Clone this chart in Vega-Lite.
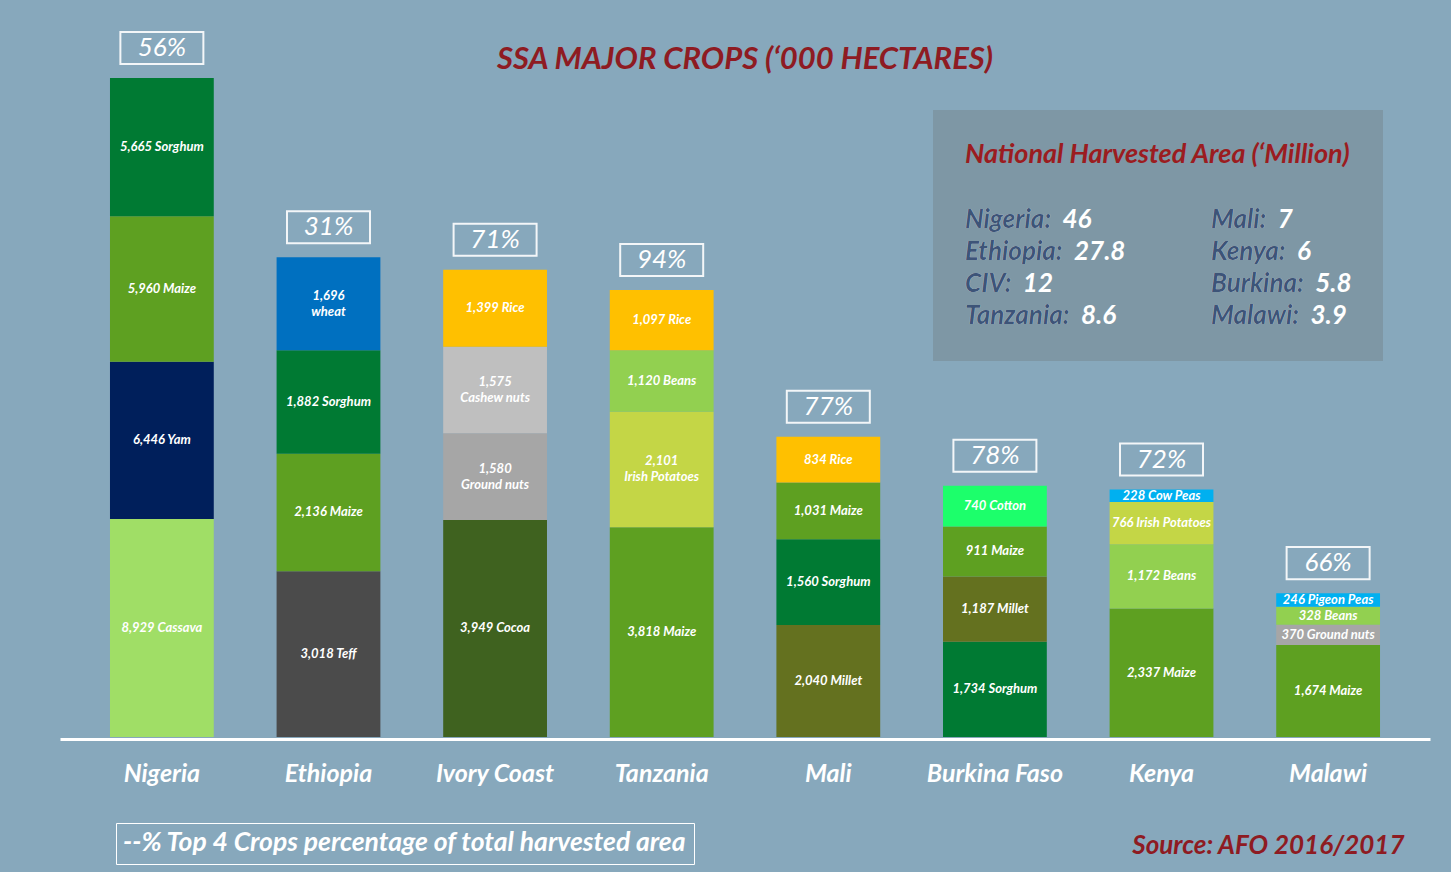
{
  "$schema": "https://vega.github.io/schema/vega-lite/v6.json",
  "width": 1370,
  "height": 717,
  "autosize": {"type": "none"},
  "padding": {"left": 60, "top": 20, "right": 21, "bottom": 135},
  "background": "#87A8BC",
  "title": {
    "text": "SSA MAJOR CROPS (‘000 HECTARES)",
    "anchor": "middle",
    "frame": "group",
    "offset": -80,
    "baseline": "alphabetic",
    "font": "Lato",
    "fontSize": 31,
    "fontStyle": "italic",
    "fontWeight": "bold",
    "color": "#8E1B22"
  },
  "datasets": {
    "crops": [
      {"country": "Nigeria", "crop": "Cassava", "value": 8929, "label": "8,929 Cassava"},
      {"country": "Nigeria", "crop": "Yam", "value": 6446, "label": "6,446 Yam"},
      {"country": "Nigeria", "crop": "Maize", "value": 5960, "label": "5,960 Maize"},
      {"country": "Nigeria", "crop": "Sorghum", "value": 5665, "label": "5,665 Sorghum"},
      {"country": "Ethiopia", "crop": "Teff", "value": 3018, "label": "3,018 Teff"},
      {"country": "Ethiopia", "crop": "Maize", "value": 2136, "label": "2,136 Maize"},
      {"country": "Ethiopia", "crop": "Sorghum", "value": 1882, "label": "1,882 Sorghum"},
      {"country": "Ethiopia", "crop": "wheat", "value": 1696, "label": "1,696\nwheat"},
      {"country": "Ivory Coast", "crop": "Cocoa", "value": 3949, "label": "3,949 Cocoa"},
      {"country": "Ivory Coast", "crop": "Ground nuts", "value": 1580, "label": "1,580\nGround nuts"},
      {"country": "Ivory Coast", "crop": "Cashew nuts", "value": 1575, "label": "1,575\nCashew nuts"},
      {"country": "Ivory Coast", "crop": "Rice", "value": 1399, "label": "1,399 Rice"},
      {"country": "Tanzania", "crop": "Maize", "value": 3818, "label": "3,818 Maize"},
      {"country": "Tanzania", "crop": "Irish Potatoes", "value": 2101, "label": "2,101\nIrish Potatoes"},
      {"country": "Tanzania", "crop": "Beans", "value": 1120, "label": "1,120 Beans"},
      {"country": "Tanzania", "crop": "Rice", "value": 1097, "label": "1,097 Rice"},
      {"country": "Mali", "crop": "Millet", "value": 2040, "label": "2,040 Millet"},
      {"country": "Mali", "crop": "Sorghum", "value": 1560, "label": "1,560 Sorghum"},
      {"country": "Mali", "crop": "Maize", "value": 1031, "label": "1,031 Maize"},
      {"country": "Mali", "crop": "Rice", "value": 834, "label": "834 Rice"},
      {"country": "Burkina Faso", "crop": "Sorghum", "value": 1734, "label": "1,734 Sorghum"},
      {"country": "Burkina Faso", "crop": "Millet", "value": 1187, "label": "1,187 Millet"},
      {"country": "Burkina Faso", "crop": "Maize", "value": 911, "label": "911 Maize"},
      {"country": "Burkina Faso", "crop": "Cotton", "value": 740, "label": "740 Cotton"},
      {"country": "Kenya", "crop": "Maize", "value": 2337, "label": "2,337 Maize"},
      {"country": "Kenya", "crop": "Beans", "value": 1172, "label": "1,172 Beans"},
      {"country": "Kenya", "crop": "Irish Potatoes", "value": 766, "label": "766 Irish Potatoes"},
      {"country": "Kenya", "crop": "Cow Peas", "value": 228, "label": "228 Cow Peas"},
      {"country": "Malawi", "crop": "Maize", "value": 1674, "label": "1,674 Maize"},
      {"country": "Malawi", "crop": "Ground nuts", "value": 370, "label": "370 Ground nuts"},
      {"country": "Malawi", "crop": "Beans", "value": 328, "label": "328 Beans"},
      {"country": "Malawi", "crop": "Pigeon Peas", "value": 246, "label": "246 Pigeon Peas"}
    ],
    "countries": [
      {"country": "Nigeria", "short": "Nigeria", "area": 46, "pct": 56},
      {"country": "Ethiopia", "short": "Ethiopia", "area": 27.8, "pct": 31},
      {"country": "Ivory Coast", "short": "CIV", "area": 12, "pct": 71},
      {"country": "Tanzania", "short": "Tanzania", "area": 8.6, "pct": 94},
      {"country": "Mali", "short": "Mali", "area": 7, "pct": 77},
      {"country": "Kenya", "short": "Kenya", "area": 6, "pct": 72},
      {"country": "Burkina Faso", "short": "Burkina", "area": 5.8, "pct": 78},
      {"country": "Malawi", "short": "Malawi", "area": 3.9, "pct": 66}
    ]
  },
  "encoding": {
    "x": {
      "field": "country",
      "type": "nominal",
      "title": "Source: AFO 2016/2017",
      "scale": {
        "domain": ["Nigeria", "Ethiopia", "Ivory Coast", "Tanzania", "Mali", "Burkina Faso", "Kenya", "Malawi"],
        "paddingInner": 0.377,
        "paddingOuter": 0.3
      }
    }
  },
  "layer": [
    {
      "data": {"name": "crops"},
      "transform": [{"filter": "datum.country === 'Nigeria'"}],
      "layer": [
        {
          "transform": [
            {"stack": "value", "groupby": ["country"], "as": ["v0", "v1"]},
            {"calculate": "(datum.v0 + datum.v1) / 2", "as": "mid"}
          ],
          "layer": [
            {
              "mark": {"type": "bar"},
              "encoding": {
                "y": {"field": "v1", "type": "quantitative", "scale": {"domain": [0, 29376], "nice": false, "zero": true}, "axis": null},
                "y2": {"field": "v0"},
                "color": {
                  "field": "crop", "type": "nominal", "legend": null,
                  "scale": {
                    "domain": ["Cassava", "Yam", "Maize", "Sorghum", "Teff", "wheat", "Cocoa", "Ground nuts", "Cashew nuts", "Rice", "Irish Potatoes", "Beans", "Millet", "Cotton", "Cow Peas", "Pigeon Peas"],
                    "range": ["#A0DE66", "#001F5B", "#5EA021", "#007A33", "#4B4B4B", "#0070C0", "#3F621F", "#A6A6A6", "#BFBFBF", "#FFC000", "#C4D646", "#92D050", "#64711F", "#1CFF6B", "#00B0F0", "#00B0F0"]
                  }
                }
              }
            },
            {
              "mark": {"type": "text", "font": "Lato", "fontSize": 13, "fontStyle": "italic", "fontWeight": "bold", "color": "white", "baseline": "middle"},
              "encoding": {
                "y": {"field": "mid", "type": "quantitative", "scale": {"domain": [0, 29376], "nice": false, "zero": true}, "axis": null},
                "text": {"field": "label"}
              }
            }
          ]
        },
        {
          "transform": [
            {"aggregate": [{"op": "sum", "field": "value", "as": "total"}], "groupby": ["country"]},
            {"lookup": "country", "from": {"data": {"name": "countries"}, "key": "country", "fields": ["pct"]}},
            {"calculate": "datum.pct + '%'", "as": "pctLabel"}
          ],
          "layer": [
            {
              "mark": {"type": "point", "shape": "M-1,-0.386L1,-0.386L1,0.386L-1,0.386Z", "size": 6889, "filled": false, "stroke": "white", "strokeWidth": 2, "opacity": 0.9, "yOffset": -30},
              "encoding": {
                "y": {"field": "total", "type": "quantitative", "scale": {"domain": [0, 29376], "nice": false, "zero": true}, "axis": null}
              }
            },
            {
              "mark": {"type": "text", "font": "Lato", "fontSize": 26, "fontStyle": "italic", "color": "white", "baseline": "middle", "yOffset": -30},
              "encoding": {
                "y": {"field": "total", "type": "quantitative", "scale": {"domain": [0, 29376], "nice": false, "zero": true}, "axis": null},
                "text": {"field": "pctLabel"}
              }
            }
          ]
        }
      ]
    },
    {
      "data": {"name": "crops"},
      "transform": [{"filter": "datum.country !== 'Nigeria'"}],
      "layer": [
        {
          "transform": [
            {"stack": "value", "groupby": ["country"], "as": ["v0", "v1"]},
            {"calculate": "(datum.v0 + datum.v1) / 2", "as": "mid"}
          ],
          "layer": [
            {
              "mark": {"type": "bar"},
              "encoding": {
                "y": {"field": "v1", "type": "quantitative", "scale": {"domain": [0, 13048], "nice": false, "zero": true}, "axis": null},
                "y2": {"field": "v0"},
                "color": {
                  "field": "crop", "type": "nominal", "legend": null,
                  "scale": {
                    "domain": ["Cassava", "Yam", "Maize", "Sorghum", "Teff", "wheat", "Cocoa", "Ground nuts", "Cashew nuts", "Rice", "Irish Potatoes", "Beans", "Millet", "Cotton", "Cow Peas", "Pigeon Peas"],
                    "range": ["#A0DE66", "#001F5B", "#5EA021", "#007A33", "#4B4B4B", "#0070C0", "#3F621F", "#A6A6A6", "#BFBFBF", "#FFC000", "#C4D646", "#92D050", "#64711F", "#1CFF6B", "#00B0F0", "#00B0F0"]
                  }
                }
              }
            },
            {
              "transform": [{"filter": "indexof(datum.label, '\\n') < 0"}],
              "mark": {"type": "text", "font": "Lato", "fontSize": 13, "fontStyle": "italic", "fontWeight": "bold", "color": "white", "baseline": "middle"},
              "encoding": {
                "y": {"field": "mid", "type": "quantitative", "scale": {"domain": [0, 13048], "nice": false, "zero": true}, "axis": null},
                "text": {"field": "label"}
              }
            },
            {
              "transform": [{"filter": "indexof(datum.label, '\\n') >= 0"}],
              "mark": {"type": "text", "font": "Lato", "fontSize": 13, "fontStyle": "italic", "fontWeight": "bold", "color": "white", "baseline": "middle", "lineBreak": "\n", "lineHeight": 16, "yOffset": -8},
              "encoding": {
                "y": {"field": "mid", "type": "quantitative", "scale": {"domain": [0, 13048], "nice": false, "zero": true}, "axis": null},
                "text": {"field": "label"}
              }
            }
          ]
        },
        {
          "transform": [
            {"aggregate": [{"op": "sum", "field": "value", "as": "total"}], "groupby": ["country"]},
            {"lookup": "country", "from": {"data": {"name": "countries"}, "key": "country", "fields": ["pct"]}},
            {"calculate": "datum.pct + '%'", "as": "pctLabel"}
          ],
          "layer": [
            {
              "mark": {"type": "point", "shape": "M-1,-0.386L1,-0.386L1,0.386L-1,0.386Z", "size": 6889, "filled": false, "stroke": "white", "strokeWidth": 2, "opacity": 0.9, "yOffset": -30},
              "encoding": {
                "y": {"field": "total", "type": "quantitative", "scale": {"domain": [0, 13048], "nice": false, "zero": true}, "axis": null}
              }
            },
            {
              "mark": {"type": "text", "font": "Lato", "fontSize": 26, "fontStyle": "italic", "color": "white", "baseline": "middle", "yOffset": -30},
              "encoding": {
                "y": {"field": "total", "type": "quantitative", "scale": {"domain": [0, 13048], "nice": false, "zero": true}, "axis": null},
                "text": {"field": "pctLabel"}
              }
            }
          ]
        }
      ]
    },
    {
      "data": {"name": "countries"},
      "transform": [
        {"filter": "datum.area > 8"},
        {"calculate": "datum.short + ':\u00a0 ' + datum.area", "as": "entry"},
        {"calculate": "datum.short + ':'", "as": "name"}
      ],
      "mark": {"type": "point", "opacity": 0},
      "encoding": {
        "stroke": {
          "field": "entry", "type": "nominal", "sort": null,
          "legend": {
            "orient": "none", "legendX": 873, "legendY": 90, "direction": "vertical",
            "title": "National Harvested Area (‘Million)",
            "titleFont": "Lato", "titleFontSize": 27, "titleFontStyle": "italic", "titleFontWeight": "bold", "titleColor": "#9B1C20", "titlePadding": 38, "titleLimit": 600,
            "labelFont": "Lato", "labelFontSize": 26, "labelFontStyle": "italic", "labelFontWeight": "bold", "labelColor": "white", "labelLimit": 400, "labelOffset": -26,
            "symbolSize": 0, "symbolOpacity": 0, "symbolStrokeWidth": 0,
            "rowPadding": 6, "padding": 32, "fillColor": "#7E97A5", "zindex": 1
          }
        },
        "shape": {
          "field": "name", "type": "nominal", "sort": null,
          "legend": {
            "orient": "none", "legendX": 873, "legendY": 90, "direction": "vertical",
            "title": ".",
            "titleFont": "Lato", "titleFontSize": 27, "titleFontStyle": "italic", "titleFontWeight": "bold", "titleColor": "rgba(0,0,0,0)", "titlePadding": 38,
            "labelFont": "Lato", "labelFontSize": 26, "labelFontStyle": "italic", "labelFontWeight": "bold", "labelColor": "#3D5478", "labelLimit": 400, "labelOffset": -26,
            "symbolSize": 0, "symbolOpacity": 0, "symbolStrokeWidth": 0,
            "rowPadding": 6, "padding": 32, "zindex": 2
          }
        },
        "strokeDash": {
          "datum": "--% Top 4 Crops percentage of total harvested area",
          "legend": {
            "orient": "none", "legendX": 56, "legendY": 803, "title": null,
            "labelFont": "Lato", "labelFontSize": 26.5, "labelFontStyle": "italic", "labelFontWeight": "bold", "labelColor": "white", "labelLimit": 800, "labelOffset": -26.5,
            "symbolSize": 0, "symbolOpacity": 0, "symbolStrokeWidth": 0,
            "padding": 7, "strokeColor": "white"
          }
        }
      }
    },
    {
      "data": {"name": "countries"},
      "transform": [
        {"filter": "datum.area <= 8"},
        {"calculate": "datum.short + ':\u00a0 ' + datum.area", "as": "entry"},
        {"calculate": "datum.short + ':'", "as": "name"}
      ],
      "mark": {"type": "point", "opacity": 0},
      "encoding": {
        "stroke": {
          "field": "entry", "type": "nominal", "sort": null,
          "legend": {
            "orient": "none", "legendX": 1119, "legendY": 90, "direction": "vertical",
            "title": ".",
            "titleFont": "Lato", "titleFontSize": 27, "titleFontStyle": "italic", "titleFontWeight": "bold", "titleColor": "rgba(0,0,0,0)", "titlePadding": 38,
            "labelFont": "Lato", "labelFontSize": 26, "labelFontStyle": "italic", "labelFontWeight": "bold", "labelColor": "white", "labelLimit": 400, "labelOffset": -26,
            "symbolSize": 0, "symbolOpacity": 0, "symbolStrokeWidth": 0,
            "rowPadding": 6, "padding": 32, "zindex": 1
          }
        },
        "shape": {
          "field": "name", "type": "nominal", "sort": null,
          "legend": {
            "orient": "none", "legendX": 1119, "legendY": 90, "direction": "vertical",
            "title": ".",
            "titleFont": "Lato", "titleFontSize": 27, "titleFontStyle": "italic", "titleFontWeight": "bold", "titleColor": "rgba(0,0,0,0)", "titlePadding": 38,
            "labelFont": "Lato", "labelFontSize": 26, "labelFontStyle": "italic", "labelFontWeight": "bold", "labelColor": "#3D5478", "labelLimit": 400, "labelOffset": -26,
            "symbolSize": 0, "symbolOpacity": 0, "symbolStrokeWidth": 0,
            "rowPadding": 6, "padding": 32, "zindex": 2
          }
        }
      }
    }
  ],
  "resolve": {
    "scale": {"y": "independent", "stroke": "independent", "shape": "independent"},
    "legend": {"stroke": "independent", "shape": "independent"}
  },
  "config": {
    "font": "Lato",
    "view": {"stroke": null},
    "axisX": {
      "domainColor": "white", "domainWidth": 3, "ticks": false, "grid": false, "offset": 2,
      "labelColor": "white", "labelFont": "Lato", "labelFontSize": 25, "labelFontStyle": "italic", "labelFontWeight": "bold",
      "labelPadding": 34, "labelBaseline": "middle", "labelAngle": 0, "labelOverlap": false, "labelLimit": 300,
      "titleColor": "#8E1B22", "titleFont": "Lato", "titleFontSize": 26, "titleFontStyle": "italic", "titleFontWeight": "bold",
      "titleX": 1344, "titleY": 114, "titleAlign": "right", "titleAnchor": "end", "titleBaseline": "alphabetic"
    }
  }
}
